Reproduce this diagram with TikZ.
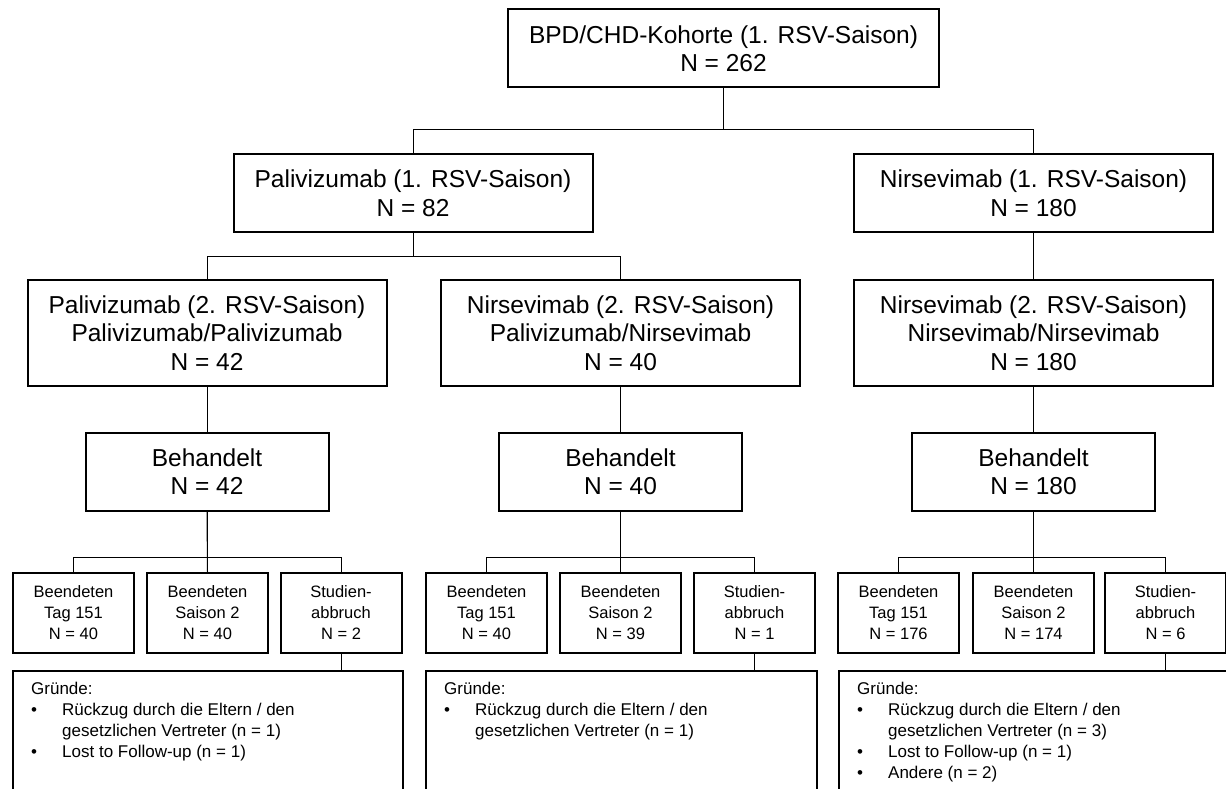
\documentclass[tikz,border=0pt]{standalone}
\usepackage{fontspec}
\setmainfont{Liberation Sans}
\tikzset{
    box/.style={draw, line width=2pt, align=center, inner sep=0pt},
    big/.style={box, font=\fontsize{24.5}{28.5}\selectfont, minimum width=359pt, minimum height=78pt},
    tall/.style={big, minimum height=106pt},
    mid/.style={big, minimum width=243pt},
    small/.style={box, font=\fontsize{16.5}{21}\selectfont, minimum width=121pt, minimum height=80pt},
    why/.style={draw, line width=2pt, inner sep=0pt, anchor=north west, minimum height=150pt},
    reasons/.style={align=left, inner sep=0pt, anchor=north west, font=\fontsize{17}{21}\selectfont},
    link/.style={line width=1pt}
}
\newcommand{\bul}{\makebox[31pt][l]{\textbullet}}
\newcommand{\ind}{\hspace*{31pt}}

\begin{document}
\begin{tikzpicture}[x=1pt,y=-1pt]
\useasboundingbox (0,0) rectangle (1226,789);
\clip (0,0) rectangle (1226,789);

\node[big,minimum width=431pt] at (723.5,48.5) (top) {BPD/CHD-Kohorte (1. RSV-Saison)\\N = 262};

\node[big] at (413,193) (p1) {Palivizumab (1. RSV-Saison)\\N = 82};
\node[big] at (1033.5,193) (n1) {Nirsevimab (1. RSV-Saison)\\N = 180};
\draw[link] (top.south) -- ++(0,41) -| (p1.north);
\draw[link] (top.south) -- ++(0,41) -| (n1.north);

\node[tall] at (207,333) (pp2) {Palivizumab (2. RSV-Saison)\\Palivizumab/Palivizumab\\N = 42};
\node[tall] at (620.5,333) (pn2) {Nirsevimab (2. RSV-Saison)\\Palivizumab/Nirsevimab\\N = 40};
\node[tall] at (1033.5,333) (nn2) {Nirsevimab (2. RSV-Saison)\\Nirsevimab/Nirsevimab\\N = 180};
\draw[link] (p1.south) -- ++(0,23) -| (pp2.north);
\draw[link] (p1.south) -- ++(0,23) -| (pn2.north);
\draw[link] (n1) -- (nn2);

\node[mid] at (207,471.5) (pb) {Behandelt\\N = 42};
\node[mid] at (620.5,471.5) (mb) {Behandelt\\N = 40};
\node[mid] at (1033.5,471.5) (nb) {Behandelt\\N = 180};
\draw[link] (pp2) -- (pb);
\draw[link] (pn2) -- (mb);
\draw[link] (nn2) -- (nb);

\node[small] at (73.5,613) (pt) {Beendeten\\Tag 151\\N = 40};
\node[small] at (207.5,613) (ps) {Beendeten\\Saison 2\\N = 40};
\node[small] at (341,613) (pa) {Studien-\\abbruch\\N = 2};
\draw[link] (pb.south) -- ++(0,46) -| (pt.north);
\draw[link] (pb.south) -- (ps.north);
\draw[link] (pb.south) -- ++(0,46) -| (pa.north);

\node[small] at (486.5,613) (mt) {Beendeten\\Tag 151\\N = 40};
\node[small] at (620.5,613) (ms) {Beendeten\\Saison 2\\N = 39};
\node[small] at (754.5,613) (ma) {Studien-\\abbruch\\N = 1};
\draw[link] (mb.south) -- ++(0,46) -| (mt.north);
\draw[link] (mb.south) -- (ms.north);
\draw[link] (mb.south) -- ++(0,46) -| (ma.north);

\node[small] at (898.5,613) (nt) {Beendeten\\Tag 151\\N = 176};
\node[small] at (1033.5,613) (ns) {Beendeten\\Saison 2\\N = 174};
\node[small] at (1165.5,613) (na) {Studien-\\abbruch\\N = 6};
\draw[link] (nb.south) -- ++(0,46) -| (nt.north);
\draw[link] (nb.south) -- (ns.north);
\draw[link] (nb.south) -- ++(0,46) -| (na.north);

\node[why,minimum width=390pt] at (12,670) (pw) {};
\node[why,minimum width=391pt] at (425,670) (mw) {};
\node[why,minimum width=400pt] at (838,670) (nw) {};
\draw[link] (pa.south) -- (pa.south |- pw.north);
\draw[link] (ma.south) -- (ma.south |- mw.north);
\draw[link] (na.south) -- (na.south |- nw.north);

\node[reasons] at (31,682) (pr) {Gründe:\\
\bul Rückzug durch die Eltern / den\\
\ind gesetzlichen Vertreter (n = 1)\\
\bul Lost to Follow-up (n = 1)};
\node[reasons] at (444,682) (mr) {Gründe:\\
\bul Rückzug durch die Eltern / den\\
\ind gesetzlichen Vertreter (n = 1)};
\node[reasons] at (857,682) (nr) {Gründe:\\
\bul Rückzug durch die Eltern / den\\
\ind gesetzlichen Vertreter (n = 3)\\
\bul Lost to Follow-up (n = 1)\\
\bul Andere (n = 2)};
\end{tikzpicture}
\end{document}
